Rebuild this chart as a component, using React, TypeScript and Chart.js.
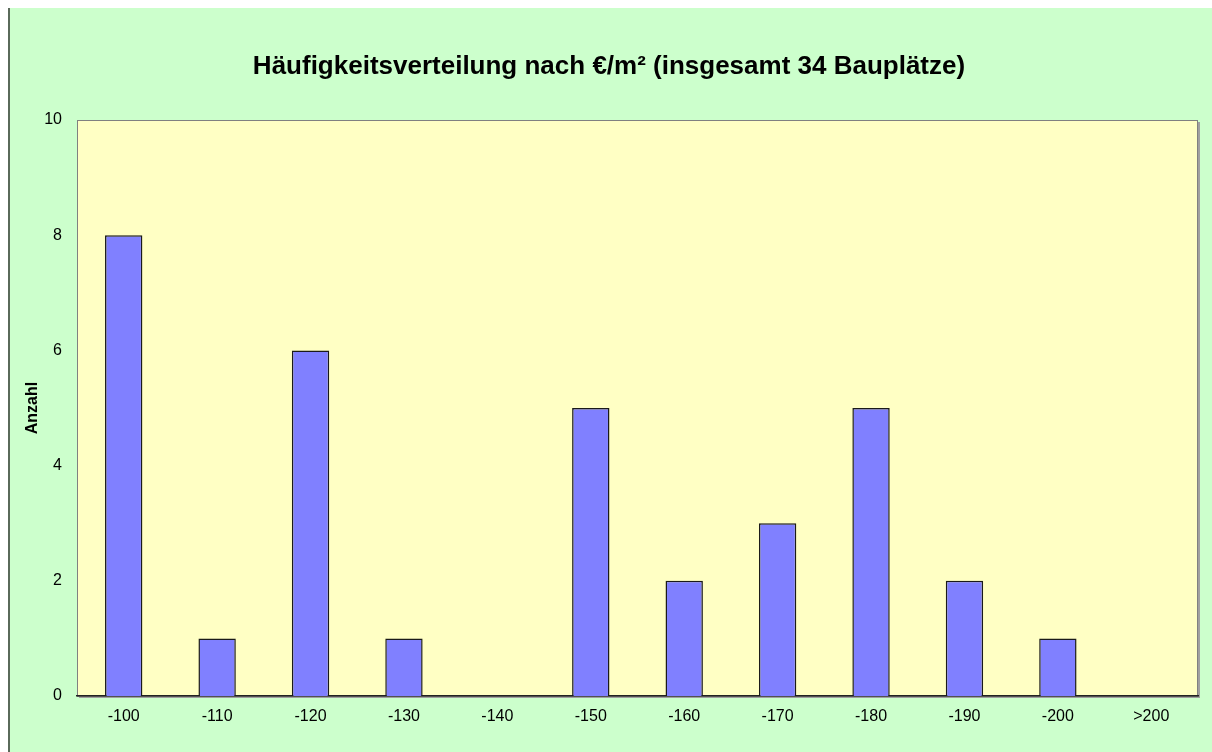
import React, { useEffect, useRef } from "react";
import { Chart, registerables } from "chart.js";

Chart.register(...registerables);

const categories = ["-100", "-110", "-120", "-130", "-140", "-150", "-160", "-170", "-180", "-190", "-200", ">200"];
const counts = [8, 1, 6, 1, 0, 5, 2, 3, 5, 2, 1, 0];
const yTicks = [0, 2, 4, 6, 8, 10];
const titleText = "Häufigkeitsverteilung nach €/m² (insgesamt 34 Bauplätze)";
const yTitle = "Anzahl";

const FONT = "'Liberation Sans', Arial, sans-serif";

const bgPlugin = {
  id: "bgPlugin",
  beforeDraw(chart: any) {
    const { ctx, width, height, chartArea } = chart;
    ctx.save();
    ctx.fillStyle = "#ffffff";
    ctx.fillRect(0, 0, width, height);
    ctx.fillStyle = "#ccffcc";
    ctx.fillRect(8, 8, width - 8, height - 8);
    ctx.fillStyle = "#5a6a5a";
    ctx.fillRect(8, 8, 2, height - 8);
    const { left, top, right, bottom } = chartArea;
    ctx.fillStyle = "#a0a0a0";
    ctx.fillRect(left + 2, top + 2, right - left, bottom - top);
    ctx.fillStyle = "#ffffc4";
    ctx.fillRect(left, top, right - left, bottom - top);
    ctx.strokeStyle = "#808080";
    ctx.lineWidth = 1;
    ctx.strokeRect(left + 0.5, top + 0.5, right - left - 1, bottom - top);
    ctx.restore();
  },
};

export default function App() {
  const ref = useRef<HTMLCanvasElement>(null);
  useEffect(() => {
    if (!ref.current) return;
    const chart = new Chart(ref.current, {
      type: "bar",
      data: {
        labels: categories,
        datasets: [
          {
            data: counts,
            backgroundColor: "#8080ff",
            borderColor: "#1a1a1a",
            borderWidth: 1.5,
            barPercentage: 0.4,
            categoryPercentage: 1,
          },
        ],
      },
      options: {
        animation: false,
        responsive: false,
        layout: { padding: { left: 20, right: 14, top: 8, bottom: 16 } },
        plugins: {
          legend: { display: false },
          tooltip: { enabled: false },
          title: {
            display: true,
            text: titleText,
            color: "#000",
            font: { family: FONT, size: 26, weight: "bold" },
            padding: { top: 43.4, bottom: 37.4 },
          },
        },
        scales: {
          x: {
            grid: { display: false, drawTicks: false },
            border: { display: true, color: "#222", width: 1.5 },
            ticks: {
              color: "#000",
              padding: 11,
              font: { family: FONT, size: 16 },
              maxRotation: 0,
            },
            afterFit(scale: any) {
              scale.height = 40;
            },
          },
          y: {
            min: 0,
            max: 10,
            grid: { display: false, drawTicks: false },
            border: { display: false },
            afterBuildTicks(scale: any) {
              scale.ticks = yTicks.map((v) => ({ value: v }));
            },
            ticks: {
              color: "#000",
              padding: 15,
              font: { family: FONT, size: 16 },
            },
            title: {
              display: true,
              text: yTitle,
              color: "#000",
              font: { family: FONT, size: 16, weight: "bold" },
              padding: { top: 3, bottom: 0 },
            },
            afterFit(scale: any) {
              scale.width = 57;
            },
          },
        },
      },
      plugins: [bgPlugin],
    });
    return () => chart.destroy();
  }, []);
  return (
    <div style={{ position: "absolute", left: 0, top: 0, width: 1212, height: 752 }}>
      <canvas ref={ref} width={1212} height={752} style={{ display: "block" }} />
    </div>
  );
}
